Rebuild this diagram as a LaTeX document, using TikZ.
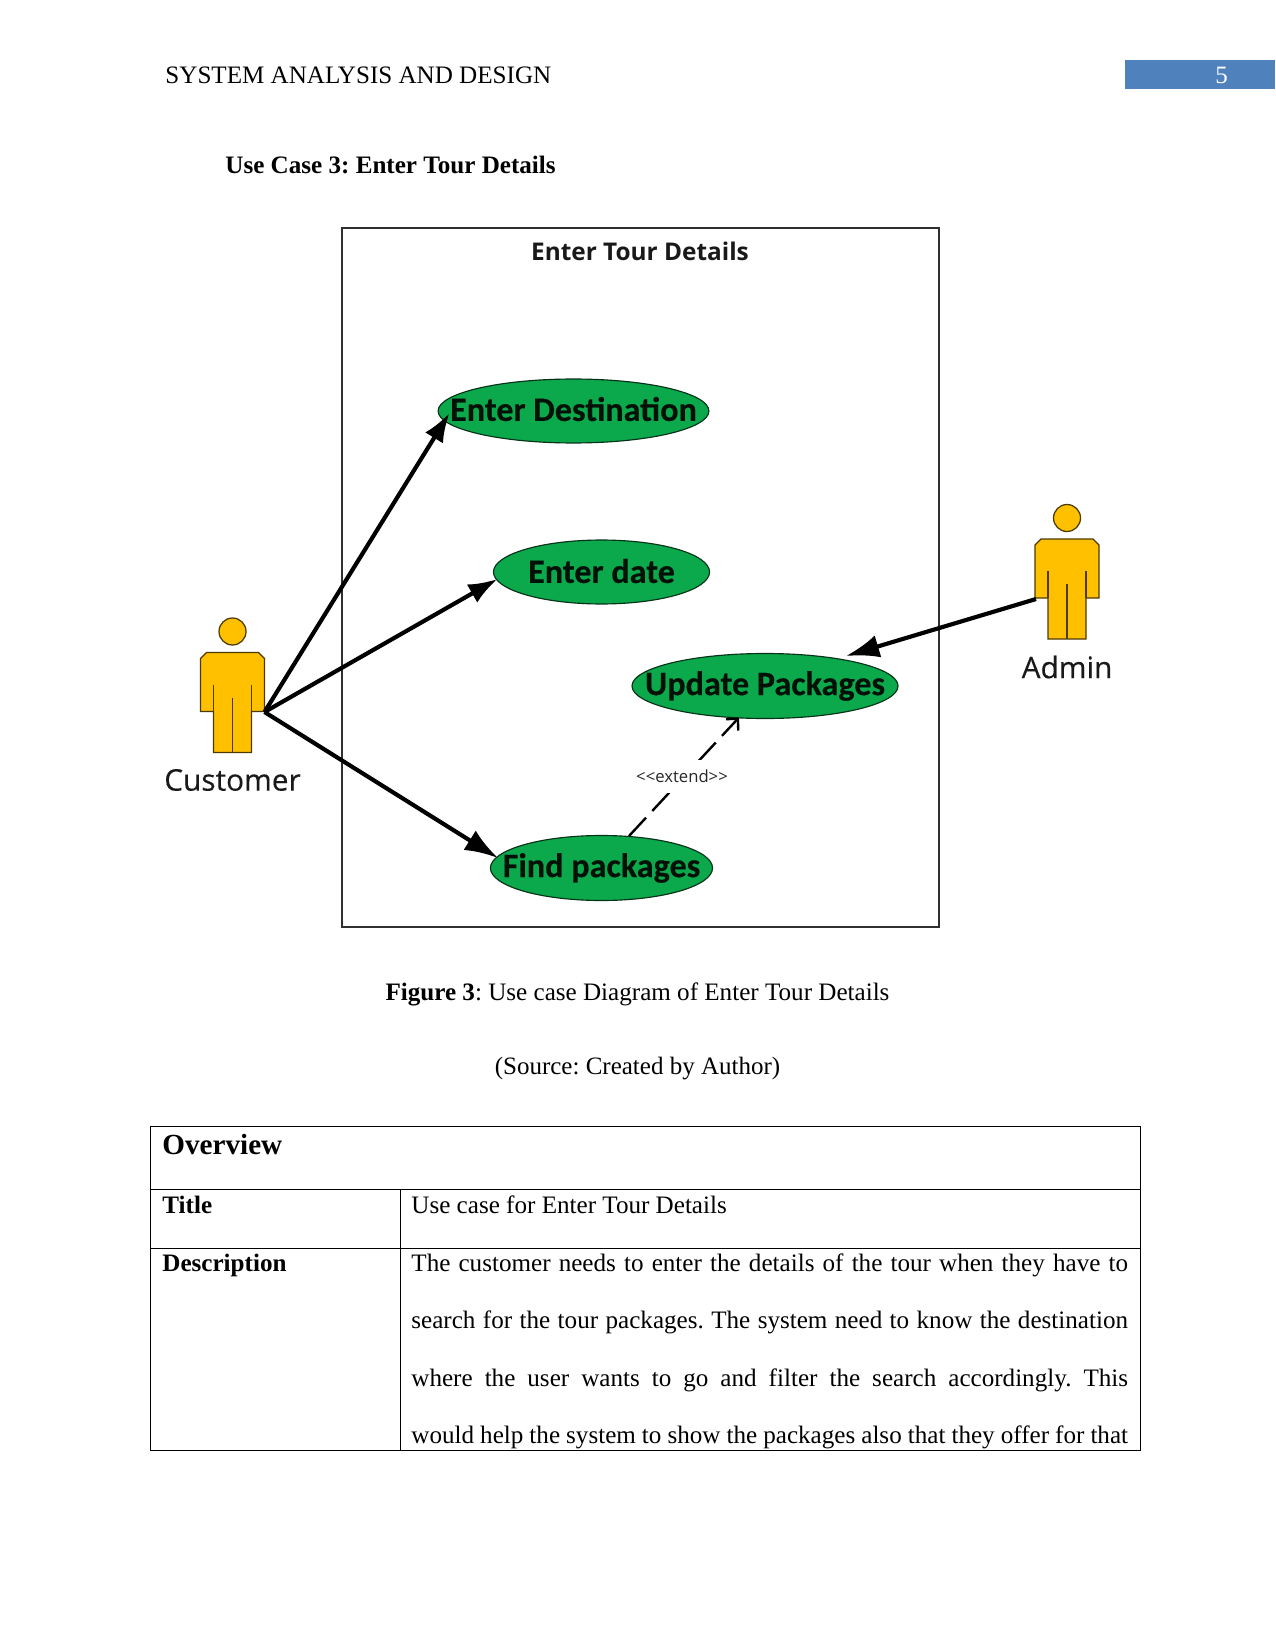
\documentclass[tikz,border=0pt]{standalone}
\usepackage{fontspec}
\setmainfont{Liberation Serif}
\newfontfamily\carl[BoldFeatures={FakeBold=0.3}]{Carlito}
\newfontfamily\opens{Open Sans}
\newfontfamily\opensm[FakeBold=0.35]{Open Sans}
\usetikzlibrary{arrows.meta,shapes.geometric,calc}
\definecolor{ucgreen}{HTML}{0BA84C}
\definecolor{actorfill}{HTML}{FFC000}
\definecolor{hdrblue}{HTML}{4F81BD}
\definecolor{framecol}{HTML}{303030}
\tikzset{
  usecase/.style={ellipse,draw=black!70!ucgreen,line width=.55pt,fill=ucgreen,inner sep=0pt,font=\carl\bfseries\fontsize{16.4}{18}\selectfont,text=black!90!ucgreen},
  actorpart/.style={draw=black!70!actorfill,line width=.6pt,fill=actorfill},
  actorline/.style={draw=black!70!actorfill,line width=.6pt},
  actorlabel/.style={font=\opensm\fontsize{14.3}{17}\selectfont,text=black!90},
  assoc/.style={line width=2pt,-{Latex[length=14pt,width=10pt]}},
  assocbig/.style={line width=2pt,-{Latex[length=16pt,width=11pt]}},
  extendline/.style={line width=1.15pt,dash pattern=on 12pt off 4.4pt,-{Straight Barb[length=4pt,width=8pt,line width=1.15pt]}},
  doctext/.style={anchor=west,inner sep=0pt,font=\fontsize{12.05}{14}\selectfont},
  tablerule/.style={line width=.45pt,black}
}
\newcommand{\uctext}[1]{\makebox[0pt][c]{#1}}
\newcommand{\actorshape}[2]{%
  \begin{scope}[shift={(#1,#2)}]
    \draw[actorpart] (0,0) circle[radius=13.5];
    \draw[actorpart] (-26,21) -- (26,21) -- (32,27) -- (32,80) -- (19,80) -- (19,121) -- (-19,121) -- (-19,80) -- (-32,80) -- (-32,27) -- cycle;
    \draw[actorline] (-19,53) -- (-19,80) (19,53) -- (19,80) (0,66) -- (0,121);
  \end{scope}}
\begin{document}
\frenchspacing
\begin{tikzpicture}[x=.48pt,y=-.48pt]
\useasboundingbox (0,0) rectangle (1275,1650);
% header
\node[doctext] (hdr) at (165,75) {SYSTEM ANALYSIS AND DESIGN};
\fill[hdrblue] (1125,60) rectangle (1275,89.5);
\node[font=\fontsize{12}{14}\selectfont,text=white,inner sep=0pt] (pg) at (1221.5,75) {5};
\node[doctext,font=\bfseries\fontsize{12.05}{14}\selectfont] (uc) at (225,165) {Use Case 3: Enter Tour Details};
% frame
\draw[framecol,line width=1.15pt] (342,228) rectangle (939,927);
\node[font=\opens\bfseries\fontsize{11.7}{14}\selectfont,text=black!90,inner sep=0pt] (ttl) at (640,251) {Enter Tour Details};
% use cases
\node[usecase,minimum width=130pt,minimum height=30.7pt] (ed) at (573.5,411) {\raisebox{2pt}{\uctext{Enter Destination}}};
\node[usecase,minimum width=103.7pt,minimum height=30.7pt] (dt) at (601.5,572) {\raisebox{1pt}{\uctext{Enter date}}};
\node[usecase,minimum width=127.7pt,minimum height=31.2pt] (up) at (765,686) {\uctext{Update Packages}};
\node[usecase,minimum width=106.6pt,minimum height=31.2pt] (fp) at (601.5,868) {\uctext{Find packages}};
% actors
\actorshape{232.5}{631.5}
\actorshape{1067}{518}
\node[actorlabel,inner sep=0pt] (cust) at (232.5,780) {Customer};
\node[actorlabel,inner sep=0pt] (admin) at (1067,667) {Admin};
\coordinate (hand) at (264.5,712);
\coordinate (adminhand) at (1036,599);
\coordinate (edtip) at ($(ed.center)+(-124,2)$);
\coordinate (dttip) at ($(dt.center)+(-104,7)$);
\coordinate (fptip) at ($(fp.center)+(-103.5,-10)$);
\coordinate (uptip) at ($(up.center)+(81,-30)$);
\coordinate (exfrom) at ($(fp.center)+(27.5,-32)$);
\coordinate (exto) at ($(up.center)+(-26,31.5)$);
% connectors
\draw[assoc] (hand) -- (edtip);
\draw[assoc] (hand) -- (dttip);
\draw[assocbig] (hand) -- (fptip);
\draw[assocbig] (adminhand) -- (uptip);
\draw[extendline] (exfrom) -- (exto);
\node[fill=white,inner sep=0pt,minimum height=16pt,font=\opens\fontsize{8}{9}\selectfont,text=black!85] (ext) at (682,776.5) {<<extend>>};
% caption
\node[font=\fontsize{12.05}{14}\selectfont,inner sep=0pt] (cap) at (637.5,994.5) {\textbf{Figure 3}: Use case Diagram of Enter Tour Details};
\node[font=\fontsize{12}{14}\selectfont,inner sep=0pt] (src) at (637.5,1069) {(Source: Created by Author)};
% table
\draw[tablerule] (150.5,1126) rectangle (1140.5,1450);
\draw[tablerule] (150.5,1189) -- (1140.5,1189) (400,1248) -- (1140.5,1248) (150.5,1248) -- (400,1248) (400,1189) -- (400,1450);
\node[doctext,font=\bfseries\fontsize{14}{16}\selectfont] (ov) at (162,1145) {Overview};
\node[doctext,font=\bfseries\fontsize{12.05}{14}\selectfont] (t1) at (162,1205) {Title};
\node[doctext] (t2) at (411,1205) {Use case for Enter Tour Details};
\node[doctext,font=\bfseries\fontsize{12.05}{14}\selectfont] (d1) at (162,1265.5) {Description};
\node[doctext] (l1) at (411,1265.5) {\makebox[344pt][s]{The customer needs to enter the details of the tour when they have to}};
\node[doctext] (l2) at (411,1322.5) {\makebox[344pt][s]{search for the tour packages. The system need to know the destination}};
\node[doctext] (l3) at (411,1380) {\makebox[344pt][s]{where the user wants to go and filter the search accordingly. This}};
\node[doctext] (l4) at (411,1437) {\makebox[344pt][s]{would help the system to show the packages also that they offer for that}};
\end{tikzpicture}
\end{document}
